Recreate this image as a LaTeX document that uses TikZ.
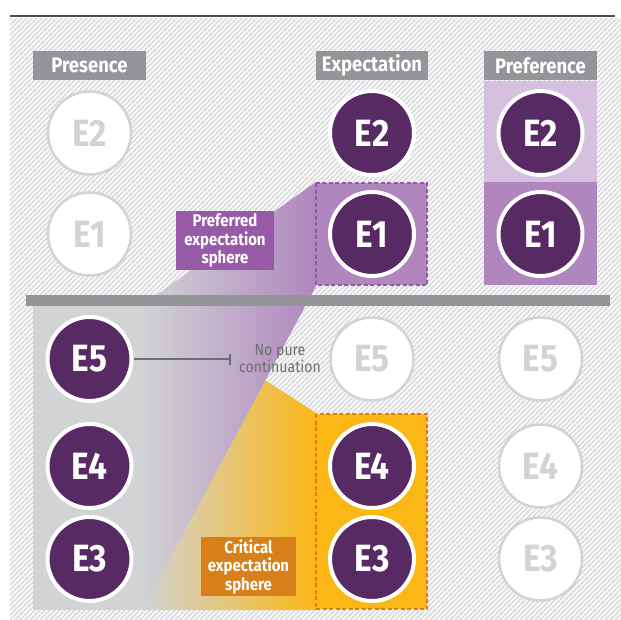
\documentclass[tikz,border=0pt]{standalone}
\usepackage{fontspec}
\setmainfont{Fira Sans}[FakeStretch=0.88]
\usetikzlibrary{arrows.meta}
\definecolor{hatchc}{RGB}{221,222,224}
\definecolor{hdr}{RGB}{147,149,152}
\definecolor{ghost}{RGB}{209,211,212}
\definecolor{dpurple}{RGB}{88,42,100}
\definecolor{lpurple}{RGB}{213,192,222}
\definecolor{mpurple}{RGB}{176,134,191}
\definecolor{lblpurple}{RGB}{151,90,166}
\definecolor{dashpurple}{RGB}{150,86,165}
\definecolor{orangeA}{RGB}{251,183,22}
\definecolor{lblorange}{RGB}{215,128,26}
\definecolor{lgray}{RGB}{209,211,212}
\definecolor{txtgray}{RGB}{109,110,113}
\definecolor{topline}{RGB}{77,77,79}
\tikzset{
  hdrbox/.style={fill=hdr, text=white, minimum width=113pt, minimum height=29pt, inner sep=0pt, font=\fontsize{21}{23}\selectfont\bfseries},
  ghostc/.style={circle, draw=ghost, line width=2.5pt, fill=white, minimum size=83pt, inner sep=0pt, text=ghost, font=\fontsize{38}{38}\selectfont\bfseries},
  darkc/.style={circle, draw=white, line width=4pt, fill=dpurple, minimum size=84pt, inner sep=0pt, text=white, font=\fontsize{38}{38}\selectfont\bfseries},
  lblbox/.style={text=white, align=center, inner sep=0pt, font=\fontsize{17}{18.5}\selectfont\bfseries},
  dashbox/.style={line width=2.2pt, dash pattern=on 4pt off 2.5pt}
}
\begin{document}
\begin{tikzpicture}[x=1pt,y=-1pt]
\useasboundingbox (0,0) rectangle (621,619);
\fill[white] (0,0) rectangle (621,619);
\draw[topline, line width=2.5pt] (10,16) -- (615,16);
\begin{scope}
\clip (10,18) rectangle (621,619);
\foreach \k in {-610,-605,...,625} \draw[hatchc, line width=1.8pt] (\k,625) -- ({\k+610},15);
\end{scope}
% lower-left grey panel
\fill[lgray] (33,306) rectangle (200,610);
% critical wedge
\shade[left color=lgray, right color=orangeA] (316,413) -- (316,610) -- (142,610) -- (200,338) -- cycle;
% preferred beam
\shade[left color=lgray, right color=mpurple] (316,182) -- (316,286) -- (142,610) -- (142,296) -- (155,296) -- cycle;
% preference column
\fill[lpurple] (484,81) rectangle (597,182);
\fill[mpurple] (484,182) rectangle (597,285);
% dashed boxes
\draw[dashbox, draw=dashpurple, fill=mpurple] (316,183) rectangle (427,285);
\draw[dashbox, draw=lblorange, fill=orangeA] (316,414) rectangle (427,609);
% separator bar
\fill[hdr] (26,295) rectangle (610,306);
% headers
\node[hdrbox] (hPres) at (89.5,65.5) {Presence};
\node[hdrbox, minimum width=112pt] (hExp) at (372,65.5) {Expectation};
\node[hdrbox] (hPref) at (540.5,65.5) {Preference};
% upper circles
\node[ghostc] (pE2) at (89.5,133) {E2};
\node[ghostc] (pE1) at (89.5,234) {E1};
\node[darkc] (xE2) at (372,133) {E2};
\node[darkc] (xE1) at (372,234) {E1};
\node[darkc] (fE2) at (540.5,133) {E2};
\node[darkc] (fE1) at (540.5,234) {E1};
% lower circles
\node[darkc] (pE5) at (89.5,359) {E5};
\node[darkc] (pE4) at (89.5,466) {E4};
\node[darkc] (pE3) at (89.5,559) {E3};
\node[ghostc] (xE5) at (372,359) {E5};
\node[darkc] (xE4) at (372,466) {E4};
\node[darkc] (xE3) at (372,559) {E3};
\node[ghostc] (fE5) at (540.5,359) {E5};
\node[ghostc] (fE4) at (540.5,466) {E4};
\node[ghostc] (fE3) at (540.5,559) {E3};
% labels
\node[lblbox, fill=lblpurple, minimum width=98pt, minimum height=59pt] (prefL) at (225,240.5) {Preferred\\expectation\\sphere};
\node[lblbox, fill=lblorange, minimum width=95pt, minimum height=59pt] (critL) at (248.5,566.5) {Critical\\expectation\\sphere};
\node[text=txtgray, align=center, inner sep=0pt, font=\fontsize{16}{17}\selectfont] (nopure) at (280,358.5) {No pure\\continuation};
\draw[txtgray, line width=2pt, -{Bar[width=11pt,line width=2pt]}, shorten >=8pt] (pE5.east) -- (nopure.west |- pE5.east);
\end{tikzpicture}
\end{document}
